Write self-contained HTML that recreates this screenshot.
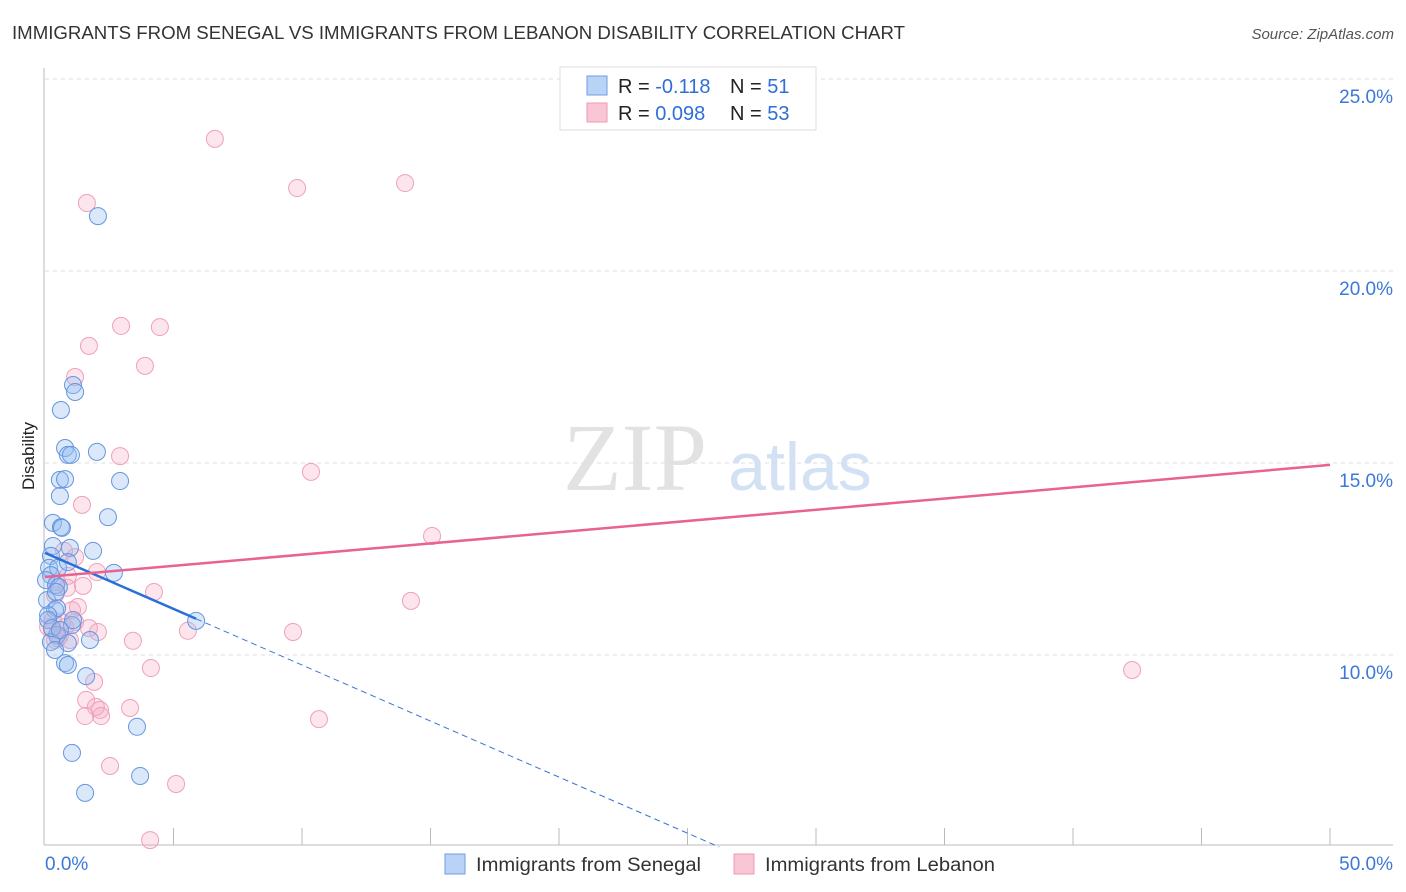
<!DOCTYPE html>
<html><head><meta charset="utf-8"><style>
body{margin:0;background:#fff;font-family:"Liberation Sans",sans-serif;}
svg{display:block}
</style></head><body>
<svg id="chart" width="1406" height="892">
<text x="12" y="39" font-size="18" fill="#333" textLength="893" lengthAdjust="spacingAndGlyphs">IMMIGRANTS FROM SENEGAL VS IMMIGRANTS FROM LEBANON DISABILITY CORRELATION CHART</text>
<text x="1394" y="39" font-size="15" fill="#555" font-style="italic" text-anchor="end">Source: ZipAtlas.com</text>
<text transform="translate(34,456) rotate(-90)" font-size="17" fill="#222" text-anchor="middle">Disability</text>
<g>
<text x="635" y="490" font-size="96" font-family="Liberation Serif,serif" fill="#e2e2e2" text-anchor="middle">ZIP</text>
<text x="800" y="490" font-size="68" fill="#d3e1f5" text-anchor="middle">atlas</text>
</g>
<g id="grid"></g>
<g id="axes"></g>
<g id="pts"></g>
<g id="lines"></g>
<g>
<rect x="560" y="67" width="256" height="63" fill="#fff" stroke="#ddd"/>
<rect x="587" y="76" width="20" height="19" fill="#b8d3f6" stroke="#6d9de3"/>
<rect x="587" y="103" width="20" height="19" fill="#fac6d5" stroke="#ee9ab2"/>
<text x="618" y="93" font-size="20" fill="#222">R = <tspan fill="#2f6fd6">-0.118</tspan></text>
<text x="730" y="93" font-size="20" fill="#222">N = <tspan fill="#2f6fd6">51</tspan></text>
<text x="618" y="120" font-size="20" fill="#222">R = <tspan fill="#2f6fd6">0.098</tspan></text>
<text x="730" y="120" font-size="20" fill="#222">N = <tspan fill="#2f6fd6">53</tspan></text>
</g>
<g>
<rect x="445" y="854" width="20" height="20" fill="#b8d3f6" stroke="#6d9de3"/>
<text x="476" y="871" font-size="19" fill="#333" textLength="225" lengthAdjust="spacingAndGlyphs">Immigrants from Senegal</text>
<rect x="734" y="854" width="20" height="20" fill="#fac6d5" stroke="#ee9ab2"/>
<text x="765" y="871" font-size="19" fill="#333" textLength="230" lengthAdjust="spacingAndGlyphs">Immigrants from Lebanon</text>
</g>
</svg>
<script>
const xTicks=[0,50];
const yTicks=[10,15,20,25];
const senX=[2.06,1.09,1.17,0.62,0.78,0.89,1.01,2.02,0.58,0.78,2.92,0.58,2.45,0.31,0.62,0.66,0.31,1.87,0.97,0.23,0.16,0.51,0.89,2.68,0.23,0.04,0.43,0.54,0.08,0.39,0.47,0.12,1.05,1.09,0.47,1.75,0.23,0.89,0.39,0.78,0.89,5.88,1.60,3.58,1.05,3.70,1.56,0.12,0.27,0.58,0.43];
const senY=[21.43,17.03,16.85,16.38,15.39,15.21,15.21,15.29,14.56,14.58,14.53,14.14,13.59,13.44,13.33,13.31,12.84,12.71,12.79,12.58,12.27,12.27,12.42,12.14,12.08,11.95,11.82,11.77,11.43,11.17,11.22,11.04,10.78,10.91,10.52,10.39,10.34,10.31,10.13,9.79,9.74,10.89,9.45,8.13,7.45,6.85,6.41,10.91,10.70,10.65,11.64];
const lebX=[6.61,1.63,9.81,14.01,2.96,4.47,1.71,3.89,1.17,2.92,10.35,1.44,15.06,1.17,0.74,0.89,2.02,1.48,4.24,0.39,1.28,14.24,0.31,0.78,1.17,1.71,2.06,5.56,9.65,0.58,0.39,0.31,0.51,3.42,0.97,4.12,42.30,1.91,1.60,1.98,2.14,1.56,2.18,3.31,10.66,2.53,5.10,4.09,0.12,0.66,0.86,0.47,1.05];
const lebY=[23.44,21.77,22.16,22.29,18.57,18.54,18.05,17.53,17.24,15.18,14.77,13.91,13.10,12.55,12.71,12.06,12.16,11.80,11.64,11.56,11.25,11.41,10.91,10.73,10.86,10.70,10.60,10.63,10.60,10.50,10.39,10.65,10.44,10.37,10.39,9.66,9.61,9.30,8.83,8.65,8.57,8.41,8.41,8.62,8.33,7.11,6.64,5.18,10.73,10.86,11.75,11.90,11.17];
const senTrend=[12.66,-0.292,5.88];
const lebTrend=[12.03,0.0584];
const X0=45,X1=1330,Y25=79,PX5=192;
const sx=v=>X0+(v/50)*(X1-X0);
const sy=v=>Y25+(25-v)/5*PX5;
const NS="http://www.w3.org/2000/svg";
function mk(tag,attrs,parent){const e=document.createElementNS(NS,tag);for(const k in attrs)e.setAttribute(k,attrs[k]);parent.appendChild(e);return e;}
const grid=document.getElementById('grid'),axes=document.getElementById('axes'),pts=document.getElementById('pts'),lines=document.getElementById('lines');
yTicks.forEach(t=>{
  const l=mk('line',{x1:45,x2:1393,y1:sy(t),y2:sy(t),stroke:'#ddd','stroke-dasharray':'4,4'},grid);
  
  
  const tx=mk('text',{x:1393,y:sy(t)+24,'font-size':19,fill:'#3b78d8','text-anchor':'end'},grid);
  tx.textContent=t.toFixed(1)+'%';
  
  
});
const ya=mk('line',{x1:44,x2:44,y1:68,y2:845,stroke:'#bbb'},axes);


const xa=mk('line',{x1:44,x2:1393,y1:845,y2:845,stroke:'#bbb'},axes);


for(let i=1;i<=10;i++){const v=i*5;const t=mk('line',{x1:sx(v),x2:sx(v),y1:828,y2:845,stroke:'#bbb'},axes);
  
  }
xTicks.forEach((t,i)=>{const tx=mk('text',{x:i?1393:45,y:870,'font-size':19,fill:'#3b78d8','text-anchor':i?'end':'start'},axes);
  tx.textContent=t.toFixed(1)+'%';
  
  });
lebX.forEach((x,i)=>{const c=mk('circle',{cx:sx(x),cy:sy(lebY[i]),r:8.5,fill:'rgba(246,170,195,0.3)',stroke:'#f0a0b9','stroke-width':1},pts);
  
  });
senX.forEach((x,i)=>{const c=mk('circle',{cx:sx(x),cy:sy(senY[i]),r:8.5,fill:'rgba(150,190,240,0.35)',stroke:'#6596e0','stroke-width':1},pts);
  
  });
const f=(tr,x)=>tr[0]+tr[1]*x;
const xEnd=(5-senTrend[0])/senTrend[1];
const bd=mk('line',{x1:sx(senTrend[2]),y1:sy(f(senTrend,senTrend[2])),x2:sx(xEnd),y2:sy(5),stroke:'#3b78d8','stroke-width':1,'stroke-dasharray':'6,4'},lines);


const bl=mk('line',{x1:sx(0),y1:sy(f(senTrend,0)),x2:sx(senTrend[2]),y2:sy(f(senTrend,senTrend[2])),stroke:'#2a6fd8','stroke-width':2.5},lines);


const pl=mk('line',{x1:sx(0),y1:sy(f(lebTrend,0)),x2:sx(50),y2:sy(f(lebTrend,50)),stroke:'#e8638f','stroke-width':2.5},lines);


</script>
</body></html>
